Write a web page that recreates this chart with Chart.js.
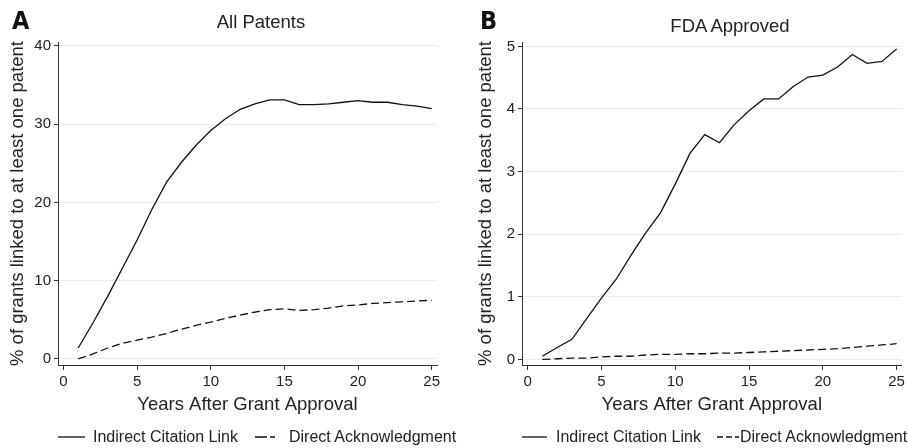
<!DOCTYPE html>
<html>
<head>
<meta charset="utf-8">
<script src="https://cdn.jsdelivr.net/npm/chart.js@4.4.1/dist/chart.umd.min.js"></script>
<style>
  body { margin: 0; background: #fff; width: 908px; height: 448px; position: relative; overflow: hidden;
         font-family: "Liberation Sans", Arial, sans-serif; color: #222; }
  .panel { position: absolute; top: 0; width: 454px; height: 448px; }
  .letter { position: absolute; font-family: "Liberation Sans Narrow", "DejaVu Sans Condensed", sans-serif;
            font-weight: bold; font-size: 25px; line-height: 25px; color: #111; }
  .ptitle { position: absolute; font-size: 18.5px; line-height: 22px; transform: translateX(-50%); white-space: nowrap; }
  .leg { position: absolute; font-size: 16px; line-height: 20px; white-space: nowrap; color: #222; }
  .leg svg { position: absolute; }
</style>
</head>
<body>
<div class="panel" style="left:0"><canvas id="chartA" width="454" height="448"></canvas></div>
<div class="panel" style="left:454px"><canvas id="chartB" width="454" height="448"></canvas></div>

<div class="letter" style="left:12px;top:8px">A</div>
<div class="letter" style="left:480px;top:8px">B</div>
<div class="ptitle" style="left:261px;top:11px">All Patents</div>
<div class="ptitle" style="left:730px;top:15px">FDA Approved</div>

<svg width="908" height="448" style="position:absolute;left:0;top:0">
  <line x1="58" y1="437" x2="85" y2="437" stroke="#111" stroke-width="1.3"/>
  <line x1="255" y1="437" x2="286" y2="437" stroke="#111" stroke-width="1.3" stroke-dasharray="12,3,5,20"/>
  <line x1="522" y1="437" x2="547" y2="437" stroke="#111" stroke-width="1.3"/>
  <line x1="717" y1="437" x2="739" y2="437" stroke="#111" stroke-width="1.3" stroke-dasharray="6,3"/>
</svg>
<div class="leg" style="left:93px;top:427px">Indirect Citation Link</div>
<div class="leg" style="left:289px;top:427px">Direct Acknowledgment</div>
<div class="leg" style="left:556px;top:427px">Indirect Citation Link</div>
<div class="leg" style="left:740px;top:427px">Direct Acknowledgment</div>

<script>
let years = [1, 2, 3, 4, 5, 6, 7, 8, 9, 10, 11, 12, 13, 14, 15, 16, 17, 18, 19, 20, 21, 22, 23, 24, 25]

// panel A: all patents
let allIndirect = [1.4, 4.6, 8.0, 11.6, 15.2, 19.1, 22.6, 25.1, 27.3, 29.2, 30.7, 31.9, 32.6, 33.1, 33.1,
                   32.5, 32.5, 32.6, 32.8, 33.0, 32.8, 32.8, 32.5, 32.3, 32.0]
let allDirect = [0.0, 0.65, 1.4, 2.0, 2.4, 2.8, 3.25, 3.8, 4.3, 4.7, 5.2, 5.6, 6.0, 6.3, 6.4,
                 6.2, 6.3, 6.5, 6.8, 6.9, 7.1, 7.2, 7.3, 7.4, 7.5]

// panel B: FDA approved
let fdaIndirect = [0.05, 0.19, 0.32, 0.65, 0.98, 1.28, 1.66, 2.02, 2.34, 2.8, 3.29, 3.59, 3.46, 3.75, 3.97,
                   4.16, 4.16, 4.36, 4.51, 4.54, 4.67, 4.87, 4.73, 4.76, 4.96]
let fdaDirect = [0.00, 0.01, 0.02, 0.02, 0.04, 0.05, 0.05, 0.07, 0.08, 0.08, 0.09, 0.09, 0.10, 0.10, 0.11,
                 0.12, 0.13, 0.14, 0.15, 0.16, 0.17, 0.19, 0.21, 0.23, 0.25]

let xTicks = [0, 5, 10, 15, 20, 25]
let allYTicks = [0, 10, 20, 30, 40]
let fdaYTicks = [0, 1, 2, 3, 4, 5]

let seriesNames = ["Indirect Citation Link", "Direct Acknowledgment"]
let yTitle = "% of grants linked to at least one patent"
let xTitle = "Years After Grant Approval"

function toPoints(vals) {
    return years.map((y, i) => ({ x: y, y: vals[i] }))
}

function makeChart(id, indirect, direct, yTicks, lim, yWidth, yTitlePad, padRight) {
    let ctx = document.getElementById(id).getContext('2d')
    return new Chart(ctx, {
        type: 'line',
        data: {
            datasets: [{
                label: seriesNames[0],
                data: toPoints(indirect),
                borderColor: '#111',
                borderWidth: 1.3,
                pointRadius: 0,
                tension: 0
            }, {
                label: seriesNames[1],
                data: toPoints(direct),
                borderColor: '#111',
                borderWidth: 1.3,
                borderDash: [8, 4],
                pointRadius: 0,
                tension: 0
            }]
        },
        options: {
            responsive: false,
            animation: false,
            layout: { padding: { top: 42, right: padRight, bottom: 0, left: 0 } },
            plugins: { legend: { display: false }, title: { display: false }, tooltip: { enabled: false } },
            scales: {
                x: {
                    type: 'linear',
                    min: lim[0], max: lim[1],
                    afterBuildTicks: s => { s.ticks = xTicks.map(v => ({ value: v })) },
                    afterFit: s => { s.height = 83 },
                    grid: { drawOnChartArea: false, drawTicks: true, tickLength: 5, tickColor: '#333' },
                    border: { display: true, color: '#333', width: 1 },
                    ticks: { color: '#222', padding: 3, font: { family: 'Liberation Sans', size: 15 }, maxRotation: 0 },
                    title: { display: true, text: xTitle, color: '#222',
                             font: { family: 'Liberation Sans', size: 18.5 }, padding: { top: 0, bottom: 32 } }
                },
                y: {
                    min: lim[2], max: lim[3],
                    afterBuildTicks: s => { s.ticks = yTicks.map(v => ({ value: v })) },
                    afterFit: s => { s.width = yWidth },
                    grid: { color: '#ebebeb', lineWidth: 1, drawTicks: true, tickLength: 4, tickColor: '#333' },
                    border: { display: true, color: '#333', width: 1 },
                    ticks: { color: '#222', padding: 3, font: { family: 'Liberation Sans', size: 15 } },
                    title: { display: true, text: yTitle, color: '#222',
                             font: { family: 'Liberation Sans', size: 18.5 }, padding: { top: yTitlePad, bottom: 0 } }
                }
            }
        }
    })
}

makeChart('chartA', allIndirect, allDirect, allYTicks, [-0.37, 25.36, -0.77, 40.5], 58, 7, 17)
makeChart('chartB', fdaIndirect, fdaDirect, fdaYTicks, [-0.38, 25.34, -0.09, 5.07], 68, 21, 3)
</script>
</body>
</html>
